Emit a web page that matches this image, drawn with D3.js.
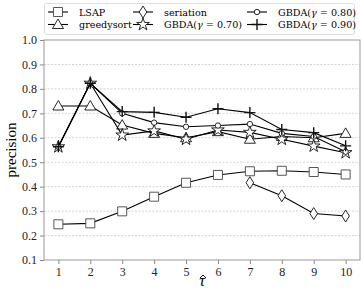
<!DOCTYPE html>
<html>
<head>
<meta charset="utf-8">
<script src="https://cdn.jsdelivr.net/npm/d3@7"></script>
<style>
  body { margin: 0; background: #fff; }
  text { font-family: "Liberation Serif", "DejaVu Serif", serif; }
</style>
</head>
<body>
<div id="chart"></div>
<script>
const taus = [1, 2, 3, 4, 5, 6, 7, 8, 9, 10];
const yTicks = [0.1, 0.2, 0.3, 0.4, 0.5, 0.6, 0.7, 0.8, 0.9, 1.0];

const lsap = [0.246, 0.25, 0.299, 0.359, 0.416, 0.448, 0.463, 0.465, 0.46, 0.45];
const greedysort = [0.73, 0.73, 0.652, 0.618, 0.6, 0.625, 0.594, 0.605, 0.6, 0.618];
const seriation = [null, null, null, null, null, null, 0.416, 0.363, 0.29, 0.28];
const gbda70 = [0.563, 0.823, 0.611, 0.628, 0.594, 0.632, 0.622, 0.594, 0.566, 0.539];
const gbda80 = [0.563, 0.823, 0.70, 0.662, 0.645, 0.65, 0.656, 0.618, 0.605, 0.543];
const gbda90 = [0.563, 0.823, 0.707, 0.704, 0.684, 0.719, 0.703, 0.634, 0.621, 0.567];

const series = [
  {name: "LSAP", values: lsap, marker: "square"},
  {name: "greedysort", values: greedysort, marker: "triangle"},
  {name: "seriation", values: seriation, marker: "diamond"},
  {name: "GBDA", gamma: "0.70", values: gbda70, marker: "star"},
  {name: "GBDA", gamma: "0.80", values: gbda80, marker: "circle"},
  {name: "GBDA", gamma: "0.90", values: gbda90, marker: "plus"}
];

const width = 361, height = 290;
const margin = {top: 40, right: 1, bottom: 30, left: 44};

const svg = d3.select("#chart").append("svg")
  .attr("width", width)
  .attr("height", height);

const x = d3.scaleLinear()
  .domain([0.55, 10.45])
  .range([margin.left, width - margin.right]);
const y = d3.scaleLinear()
  .domain([0.1, 1.0])
  .range([height - margin.bottom, margin.top]);

// grid
svg.append("g")
  .selectAll("line")
  .data(yTicks.slice(1, -1))
  .enter().append("line")
    .attr("x1", margin.left).attr("x2", width - margin.right)
    .attr("y1", d => y(d)).attr("y2", d => y(d))
    .attr("stroke", "#c8c8c8")
    .attr("stroke-width", 0.8)
    .attr("stroke-dasharray", "2,1.5");

// axes
const xAxis = svg.append("g")
  .attr("transform", "translate(0," + (height - margin.bottom) + ")")
  .call(d3.axisBottom(x).tickValues(taus).tickSize(4).tickPadding(3).tickFormat(d3.format("d")));
const yAxis = svg.append("g")
  .attr("transform", "translate(" + margin.left + ",0)")
  .call(d3.axisLeft(y).tickValues(yTicks).tickSize(4).tickPadding(3).tickFormat(d3.format(".1f")));
[xAxis, yAxis].forEach(a => {
  a.select(".domain").remove();
  a.selectAll("line").attr("stroke", "#888");
  a.selectAll("text").attr("font-size", 12).attr("fill", "#222");
});

// frame
svg.append("rect")
  .attr("x", margin.left).attr("y", margin.top)
  .attr("width", width - margin.right - margin.left)
  .attr("height", height - margin.bottom - margin.top)
  .attr("fill", "none")
  .attr("stroke", "#999")
  .attr("stroke-width", 1);

// labels
svg.append("text")
  .attr("transform", "translate(16," + ((margin.top + height - margin.bottom) / 2) + ") rotate(-90)")
  .attr("text-anchor", "middle")
  .attr("font-size", 15)
  .text("precision");
const xl = (margin.left + width - margin.right) / 2;
svg.append("text")
  .attr("x", xl).attr("y", 286)
  .attr("text-anchor", "middle")
  .attr("font-size", 16)
  .attr("font-style", "italic")
  .text("τ");
svg.append("path")
  .attr("d", "M" + (xl - 2) + ",278L" + (xl + 1) + ",275L" + (xl + 4) + ",278")
  .attr("fill", "none")
  .attr("stroke", "#000")
  .attr("stroke-width", 0.9);

function markerPath(type) {
  switch (type) {
    case "square": return "M-4.5,-4.5H4.5V4.5H-4.5Z";
    case "triangle": return "M0,-5.5L5.5,4L-5.5,4Z";
    case "diamond": return "M0,-6L3.8,0L0,6L-3.8,0Z";
    case "star": return d3.symbol(d3.symbolStar, 50)();
    case "circle": return "M2.7,0A2.7,2.7 0 1,1 -2.7,0A2.7,2.7 0 1,1 2.7,0Z";
    case "plus": return "M-5.5,0H5.5M0,-5.5V5.5";
  }
}

function drawMarker(g, type) {
  g.append("path")
    .attr("d", markerPath(type))
    .attr("fill", type === "plus" ? "none" : "#fff")
    .attr("stroke", type === "square" ? "#444" : "#111")
    .attr("stroke-width", type === "plus" ? 1.4 : 0.9);
}

const line = d3.line()
  .defined(d => d != null)
  .x((d, i) => x(taus[i]))
  .y(d => y(d));

series.forEach(s => {
  svg.append("path")
    .datum(s.values)
    .attr("d", line)
    .attr("fill", "none")
    .attr("stroke", "#000")
    .attr("stroke-width", 1.1);
  s.values.forEach((v, i) => {
    if (v == null) return;
    const g = svg.append("g").attr("transform", "translate(" + x(taus[i]) + "," + y(v) + ")");
    drawMarker(g, s.marker);
  });
});

// legend
const legend = svg.append("g");
legend.append("rect")
  .attr("x", 44.5).attr("y", 3.5)
  .attr("width", 310).attr("height", 31)
  .attr("rx", 2)
  .attr("fill", "#fff")
  .attr("stroke", "#ddd");

const cols = [48, 133, 247];
const rows = [12, 24.5];
const order = [[0, 1], [2, 3], [4, 5]];
order.forEach((pair, c) => {
  pair.forEach((idx, r) => {
    const s = series[idx];
    const lx = cols[c], ly = rows[r];
    legend.append("line")
      .attr("x1", lx).attr("x2", lx + 20)
      .attr("y1", ly).attr("y2", ly)
      .attr("stroke", "#000").attr("stroke-width", 1.1);
    drawMarker(legend.append("g").attr("transform", "translate(" + (lx + 10) + "," + ly + ")"), s.marker);
    const t = legend.append("text")
      .attr("x", lx + 31).attr("y", ly + 3.5)
      .style("font-family", "'DejaVu Serif'")
      .style("font-size", "9.6px");
    if (s.gamma) {
      t.append("tspan").text(s.name + "(");
      t.append("tspan").attr("font-style", "italic").text("γ");
      t.append("tspan").text(" = " + s.gamma + ")");
    } else {
      t.text(s.name);
    }
  });
});
</script>
</body>
</html>
